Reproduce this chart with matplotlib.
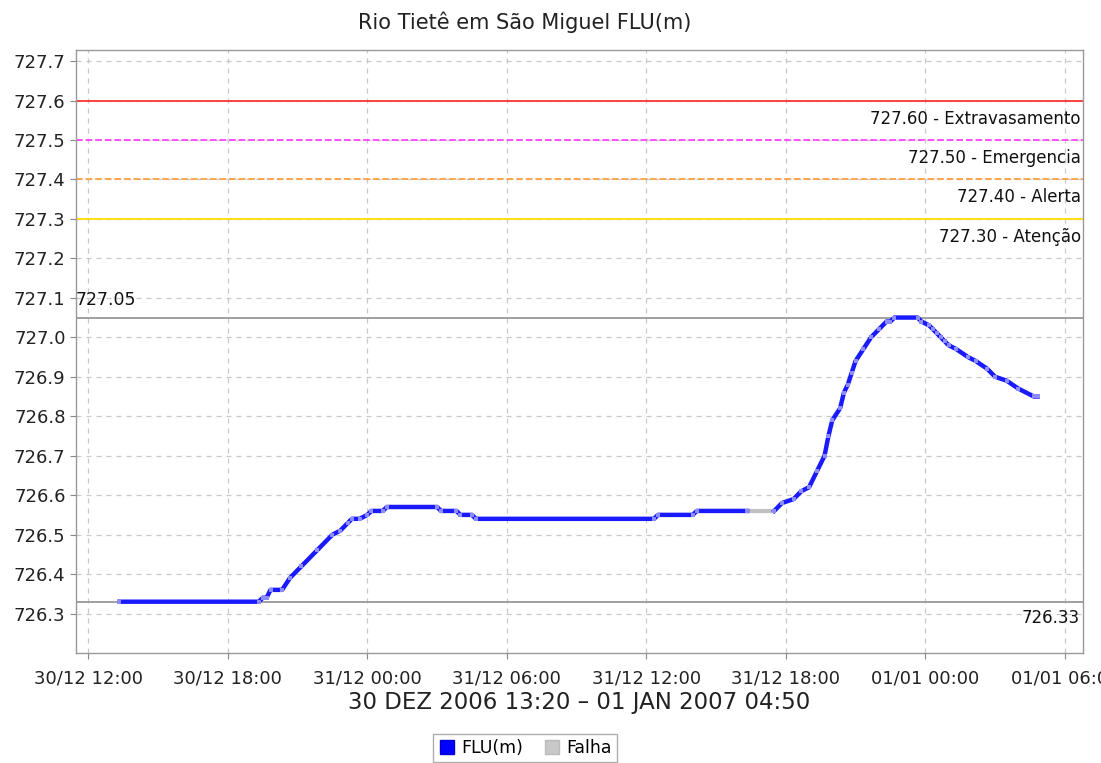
import matplotlib
matplotlib.use("Agg")
import matplotlib.pyplot as plt
import matplotlib.dates as mdates
from matplotlib.lines import Line2D
import pandas as pd

# ---------------- data ----------------
title = "Rio Tietê em São Miguel FLU(m)"
xlabel = "30 DEZ 2006 13:20 – 01 JAN 2007 04:50"

flu_times = [
    "2006-12-30 13:20", "2006-12-30 19:20", "2006-12-30 19:30", "2006-12-30 19:40",
    "2006-12-30 19:50", "2006-12-30 20:20", "2006-12-30 20:40", "2006-12-30 21:10",
    "2006-12-30 21:50", "2006-12-30 22:30", "2006-12-30 22:50", "2006-12-30 23:10",
    "2006-12-30 23:20", "2006-12-30 23:40", "2006-12-31 00:00", "2006-12-31 00:10",
    "2006-12-31 00:40", "2006-12-31 00:50", "2006-12-31 03:00", "2006-12-31 03:10",
    "2006-12-31 03:50", "2006-12-31 04:00", "2006-12-31 04:30", "2006-12-31 04:40",
    "2006-12-31 12:20", "2006-12-31 12:30", "2006-12-31 14:00", "2006-12-31 14:10",
    "2006-12-31 16:20",
]
flu_values = [
    726.33, 726.33, 726.34, 726.34,
    726.36, 726.36, 726.39, 726.42,
    726.46, 726.50, 726.51, 726.53,
    726.54, 726.54, 726.55, 726.56,
    726.56, 726.57, 726.57, 726.56,
    726.56, 726.55, 726.55, 726.54,
    726.54, 726.55, 726.55, 726.56,
    726.56,
]
flu2_times = [
    "2006-12-31 17:30", "2006-12-31 17:50", "2006-12-31 18:20", "2006-12-31 18:40",
    "2006-12-31 19:00", "2006-12-31 19:20", "2006-12-31 19:40", "2006-12-31 19:50",
    "2006-12-31 20:00", "2006-12-31 20:20", "2006-12-31 20:30", "2006-12-31 20:40",
    "2006-12-31 20:50", "2006-12-31 21:00", "2006-12-31 21:20", "2006-12-31 21:40",
    "2006-12-31 22:00", "2006-12-31 22:20", "2006-12-31 22:30", "2006-12-31 22:40",
    "2006-12-31 23:40", "2006-12-31 23:50", "2007-01-01 00:10", "2007-01-01 00:20",
    "2007-01-01 00:30", "2007-01-01 00:40", "2007-01-01 00:50", "2007-01-01 01:00",
    "2007-01-01 01:20", "2007-01-01 01:50", "2007-01-01 02:10", "2007-01-01 02:40",
    "2007-01-01 03:00", "2007-01-01 03:30", "2007-01-01 04:00", "2007-01-01 04:40",
    "2007-01-01 04:50",
]
flu2_values = [
    726.56, 726.58, 726.59, 726.61,
    726.62, 726.66, 726.70, 726.75,
    726.79, 726.82, 726.86, 726.88,
    726.91, 726.94, 726.97, 727.00,
    727.02, 727.04, 727.04, 727.05,
    727.05, 727.04, 727.03, 727.02,
    727.01, 727.00, 726.99, 726.98,
    726.97, 726.95, 726.94, 726.92,
    726.90, 726.89, 726.87, 726.85,
    726.85,
]
falha_times = ["2006-12-31 16:20", "2006-12-31 17:30"]
falha_values = [726.56, 726.56]

thresholds = [727.60, 727.50, 727.40, 727.30]
threshold_names = ["Extravasamento", "Emergencia", "Alerta", "Atenção"]
threshold_colors = ["#ff3333", "#ff44ff", "#ffa040", "#ffdd00"]
threshold_styles = ["-", "--", "--", "-"]
max_value = 727.05
min_value = 726.33

x_range = ["2006-12-30 11:28", "2007-01-01 06:47"]
y_range = [726.2, 727.728]
y_ticks = [726.3, 726.4, 726.5, 726.6, 726.7, 726.8, 726.9, 727.0,
           727.1, 727.2, 727.3, 727.4, 727.5, 727.6, 727.7]

# ---------------- plot ----------------
plt.rcParams['font.family'] = ['DejaVu Sans']
fig = plt.figure(figsize=(11.01, 7.63), dpi=100)
ax = fig.add_axes([76/1101, 1-653/763, (1083-76)/1101, (653-50)/763])

t1 = pd.to_datetime(flu_times)
t2 = pd.to_datetime(flu2_times)
tf = pd.to_datetime(falha_times)

ax.grid(True, color="#c8c8c8", linestyle=(0, (4, 4)), linewidth=0.9)
ax.set_axisbelow(True)

for v, c, s in zip(thresholds, threshold_colors, threshold_styles):
    ax.axhline(v, color=c, linestyle=s, linewidth=1.3, zorder=2)
ax.axhline(max_value, color="#999999", linewidth=1.3, zorder=2)
ax.axhline(min_value, color="#999999", linewidth=1.3, zorder=2)

ax.plot(tf, falha_values, color="#c0c0c0", linewidth=3, zorder=3, solid_capstyle="butt")
for tt, vv in ((t1, flu_values), (t2, flu2_values)):
    ax.plot(tt, vv, color="#1a1aff", linewidth=3.2, zorder=4,
            marker="s", markersize=2.2, markerfacecolor="#8c8cff",
            markeredgewidth=0)

# labels for thresholds
trans = ax.get_yaxis_transform()
for v, n in zip(thresholds, threshold_names):
    ax.annotate(f"{v:.2f} - {n}", xy=(0.998, v), xycoords=trans,
                xytext=(0, -13), textcoords="offset points",
                ha="right", va="center", fontsize=12, color="#111111")
ax.annotate(f"{max_value:.2f}", xy=(0.0, max_value), xycoords=trans,
            xytext=(0, 12.5), textcoords="offset points",
            ha="left", va="center", fontsize=12.5, color="#111111")
ax.annotate(f"{min_value:.2f}", xy=(0.997, min_value), xycoords=trans,
            xytext=(0, -12), textcoords="offset points",
            ha="right", va="center", fontsize=12, color="#111111")

ax.set_xlim(pd.to_datetime(x_range))
ax.set_ylim(y_range)
ax.set_yticks(y_ticks)
ax.set_yticklabels([f"{v:.1f}" for v in y_ticks])
ax.xaxis.set_major_locator(mdates.HourLocator(byhour=[0, 6, 12, 18]))
ax.xaxis.set_major_formatter(mdates.DateFormatter("%d/%m %H:%M"))

ax.tick_params(axis="both", direction="out", length=4, color="#888888",
               labelsize=13, labelcolor="#222222")
ax.tick_params(axis="x", pad=8)
for sp in ax.spines.values():
    sp.set_color("#999999")
    sp.set_linewidth(1.0)

fig.text(525/1101, 1-22/763, title, ha="center", va="center", fontsize=15, color="#222222")
fig.text(579/1101, 1-703/763, xlabel, ha="center", va="center", fontsize=16.5, color="#222222")

handles = [
    Line2D([], [], linestyle="none", marker="s", markersize=10,
           markerfacecolor="#0000ff", markeredgecolor="#0000cc"),
    Line2D([], [], linestyle="none", marker="s", markersize=10,
           markerfacecolor="#c8c8c8", markeredgecolor="#bbbbbb"),
]
leg = fig.legend(handles, ["FLU(m)", "Falha"], loc="center",
                 bbox_to_anchor=(525/1101, 1-748/763), ncol=2, fontsize=12.5,
                 frameon=True, fancybox=False, handletextpad=0.3,
                 columnspacing=1.2, borderpad=0.3, handlelength=1.0)
leg.get_frame().set_edgecolor("#999999")
leg.get_frame().set_linewidth(1.0)

fig.savefig("out.png", dpi=100)
